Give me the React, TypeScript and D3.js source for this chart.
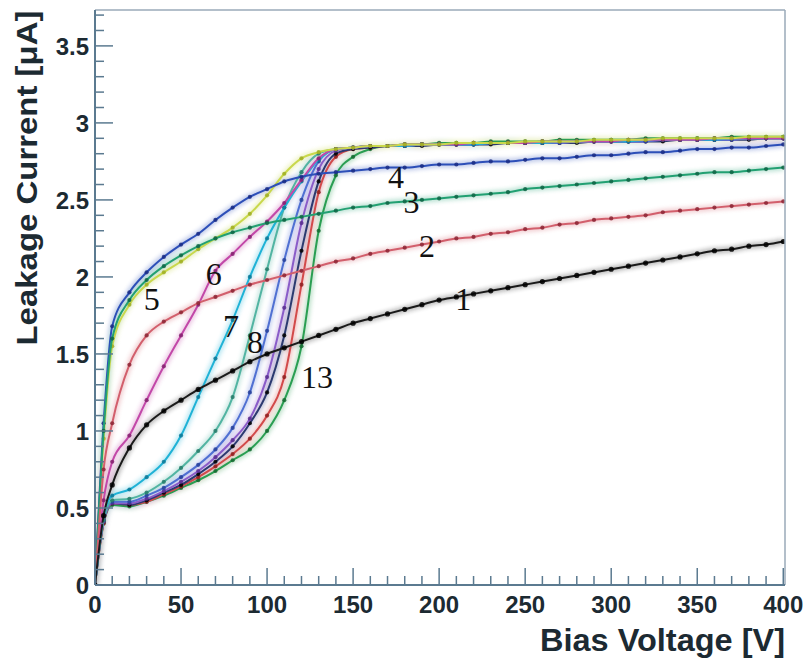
import React from "react";
import * as d3 from "d3";

// Bias voltage sample points [V]
const voltages = [0, 5, 10, 20, 30, 40, 50, 60, 70, 80, 90, 100, 110, 120, 130, 140, 150, 160, 170, 180, 190, 200, 210, 220, 230, 240, 250, 260, 270, 280, 290, 300, 310, 320, 330, 340, 350, 360, 370, 380, 390, 400];

// Leakage current [uA] per curve
const curve1 = [0, 0.45, 0.65, 0.89, 1.04, 1.13, 1.2, 1.27, 1.33, 1.39, 1.45, 1.5, 1.54, 1.58, 1.62, 1.66, 1.7, 1.73, 1.76, 1.79, 1.82, 1.85, 1.87, 1.89, 1.91, 1.93, 1.95, 1.97, 1.99, 2.01, 2.03, 2.05, 2.07, 2.09, 2.11, 2.13, 2.15, 2.17, 2.18, 2.2, 2.21, 2.23];
const curve2 = [0, 0.75, 1.05, 1.43, 1.62, 1.71, 1.77, 1.83, 1.87, 1.91, 1.95, 1.98, 2.01, 2.04, 2.07, 2.1, 2.12, 2.15, 2.17, 2.19, 2.21, 2.23, 2.25, 2.26, 2.28, 2.29, 2.31, 2.32, 2.34, 2.35, 2.37, 2.38, 2.39, 2.4, 2.42, 2.43, 2.44, 2.45, 2.46, 2.47, 2.48, 2.49];
const curve3 = [0, 1.0, 1.6, 1.85, 1.98, 2.07, 2.14, 2.2, 2.25, 2.29, 2.32, 2.35, 2.37, 2.39, 2.41, 2.43, 2.45, 2.46, 2.48, 2.49, 2.5, 2.51, 2.52, 2.53, 2.54, 2.55, 2.57, 2.58, 2.59, 2.6, 2.61, 2.62, 2.63, 2.64, 2.65, 2.66, 2.67, 2.68, 2.68, 2.69, 2.7, 2.71];
const curve4 = [0, 1.05, 1.68, 1.9, 2.03, 2.13, 2.21, 2.28, 2.37, 2.45, 2.52, 2.57, 2.62, 2.65, 2.67, 2.68, 2.69, 2.7, 2.71, 2.71, 2.72, 2.73, 2.73, 2.74, 2.75, 2.75, 2.76, 2.77, 2.77, 2.78, 2.79, 2.79, 2.8, 2.81, 2.81, 2.82, 2.83, 2.83, 2.84, 2.84, 2.85, 2.86];
const curve5 = [0, 0.95, 1.55, 1.82, 1.95, 2.03, 2.1, 2.18, 2.25, 2.32, 2.41, 2.53, 2.67, 2.77, 2.81, 2.83, 2.84, 2.85, 2.85, 2.86, 2.86, 2.86, 2.87, 2.87, 2.87, 2.87, 2.88, 2.88, 2.88, 2.88, 2.89, 2.89, 2.89, 2.89, 2.9, 2.9, 2.9, 2.9, 2.9, 2.91, 2.91, 2.91];
const curve6 = [0, 0.55, 0.8, 0.97, 1.2, 1.42, 1.62, 1.82, 2.04, 2.15, 2.26, 2.36, 2.48, 2.63, 2.77, 2.83, 2.84, 2.85, 2.85, 2.86, 2.86, 2.86, 2.86, 2.87, 2.87, 2.87, 2.87, 2.88, 2.88, 2.88, 2.88, 2.88, 2.89, 2.89, 2.89, 2.89, 2.89, 2.9, 2.9, 2.9, 2.9, 2.9];
const curve7 = [0, 0.45, 0.58, 0.62, 0.7, 0.8, 0.97, 1.22, 1.47, 1.72, 2.0, 2.25, 2.45, 2.62, 2.76, 2.83, 2.84, 2.85, 2.85, 2.85, 2.86, 2.86, 2.86, 2.86, 2.87, 2.87, 2.87, 2.87, 2.88, 2.88, 2.88, 2.88, 2.88, 2.89, 2.89, 2.89, 2.89, 2.89, 2.9, 2.9, 2.9, 2.9];
const curve8 = [0, 0.42, 0.55, 0.56, 0.6, 0.67, 0.76, 0.87, 1.0, 1.22, 1.62, 2.05, 2.45, 2.68, 2.8, 2.83, 2.84, 2.85, 2.85, 2.86, 2.86, 2.86, 2.86, 2.87, 2.87, 2.87, 2.87, 2.88, 2.88, 2.88, 2.88, 2.89, 2.89, 2.89, 2.89, 2.89, 2.9, 2.9, 2.9, 2.9, 2.9, 2.91];
const curve9 = [0, 0.42, 0.54, 0.54, 0.58, 0.63, 0.7, 0.78, 0.88, 1.02, 1.25, 1.65, 2.11, 2.5, 2.75, 2.83, 2.84, 2.85, 2.85, 2.85, 2.86, 2.86, 2.86, 2.86, 2.87, 2.87, 2.87, 2.87, 2.87, 2.88, 2.88, 2.88, 2.88, 2.88, 2.89, 2.89, 2.89, 2.89, 2.89, 2.9, 2.9, 2.9];
const curve10 = [0, 0.41, 0.53, 0.53, 0.56, 0.61, 0.67, 0.74, 0.83, 0.94, 1.08, 1.35, 1.8, 2.35, 2.7, 2.82, 2.84, 2.85, 2.85, 2.85, 2.86, 2.86, 2.86, 2.86, 2.87, 2.87, 2.87, 2.87, 2.87, 2.88, 2.88, 2.88, 2.88, 2.88, 2.89, 2.89, 2.89, 2.89, 2.89, 2.9, 2.9, 2.9];
const curve11 = [0, 0.41, 0.53, 0.52, 0.55, 0.6, 0.65, 0.72, 0.8, 0.9, 1.05, 1.25, 1.62, 2.17, 2.62, 2.8, 2.83, 2.84, 2.85, 2.85, 2.85, 2.86, 2.86, 2.86, 2.86, 2.87, 2.87, 2.87, 2.87, 2.87, 2.88, 2.88, 2.88, 2.88, 2.88, 2.89, 2.89, 2.89, 2.89, 2.89, 2.9, 2.9];
const curve12 = [0, 0.4, 0.53, 0.52, 0.54, 0.59, 0.64, 0.7, 0.77, 0.85, 0.95, 1.1, 1.35, 1.95, 2.55, 2.78, 2.83, 2.84, 2.85, 2.85, 2.86, 2.86, 2.86, 2.86, 2.87, 2.87, 2.87, 2.87, 2.88, 2.88, 2.88, 2.88, 2.88, 2.89, 2.89, 2.89, 2.89, 2.89, 2.9, 2.9, 2.9, 2.9];
const curve13 = [0, 0.4, 0.52, 0.51, 0.54, 0.58, 0.63, 0.68, 0.74, 0.81, 0.88, 1.0, 1.2, 1.55, 2.3, 2.66, 2.78, 2.83, 2.85, 2.86, 2.86, 2.87, 2.87, 2.87, 2.88, 2.88, 2.88, 2.88, 2.89, 2.89, 2.89, 2.89, 2.89, 2.9, 2.9, 2.9, 2.9, 2.9, 2.91, 2.91, 2.91, 2.91];

const seriesValues = [curve1, curve2, curve3, curve4, curve5, curve6, curve7, curve8, curve9, curve10, curve11, curve12, curve13];
const lineColors = ["#1a1a1a", "#d25f6c", "#22a072", "#2d4fb8", "#c9d84c", "#c248a8", "#1fb2d6", "#52b4a2", "#5070d2", "#8a5cc8", "#2c3a70", "#d24a4a", "#2a9e52"];
const dotColors = ["#000000", "#8c2434", "#0e6444", "#1a2c84", "#9fae22", "#84206e", "#0a7896", "#247a68", "#26409a", "#572c8e", "#000000", "#8e1e1e", "#146a30"];

// Curve number labels and their anchor (voltage, current)
const curveLabels = ["1", "2", "3", "4", "5", "6", "7", "8", "13"];
const labelVoltages = [214, 193, 184, 175, 33, 69, 79, 93, 129];
const labelCurrents = [1.86, 2.2, 2.49, 2.65, 1.86, 2.02, 1.68, 1.58, 1.35];

const xTickValues = [0, 50, 100, 150, 200, 250, 300, 350, 400];
const yTickValues = [0, 0.5, 1, 1.5, 2, 2.5, 3, 3.5];

const W = 810;
const H = 664;
const left = 95;
const right = 785;
const top = 10;
const bottom = 585;

export default function App() {
  const x = d3.scaleLinear().domain([0, 401]).range([left, right]);
  const y = d3.scaleLinear().domain([0, 3.733]).range([bottom, top]);

  const line = d3
    .line<number>()
    .x((_, i) => x(voltages[i]))
    .y((d) => y(d))
    .curve(d3.curveMonotoneX);

  const minorX = d3.range(0, 401, 10);
  const minorY = d3.range(0, 38).map((i) => i / 10);
  const axisColor = "#5b7a90";

  const order = d3.range(seriesValues.length).reverse();

  return (
    <div style={{ position: "absolute", left: 0, top: 0 }}>
      <svg width={W} height={H} style={{ display: "block", background: "#fff" }}>
        <defs>
          <clipPath id="plotClip">
            <rect x={left} y={top} width={right - left} height={bottom - top} />
          </clipPath>
          <filter id="blur" x="-10%" y="-10%" width="120%" height="120%">
            <feGaussianBlur stdDeviation="2" />
          </filter>
        </defs>
        <rect x={0} y={0} width={W} height={H} fill="#ffffff" />

        {/* curves */}
        <g clipPath="url(#plotClip)">
          <g filter="url(#blur)" opacity={0.3}>
            {order.map((k) => (
              <path key={"h" + k} d={line(seriesValues[k]) || ""} fill="none" stroke={lineColors[k]} strokeWidth={6} />
            ))}
          </g>
          {order.map((k) => (
            <g key={"c" + k}>
              <path d={line(seriesValues[k]) || ""} fill="none" stroke={lineColors[k]} strokeWidth={2} />
              {seriesValues[k].map((v, i) => (
                <circle key={i} cx={x(voltages[i])} cy={y(v)} r={k === 0 ? 2.6 : 2.1} fill={dotColors[k]} opacity={0.85} />
              ))}
            </g>
          ))}
        </g>

        {/* frame */}
        <line x1={left} x2={right} y1={top} y2={top} stroke="#9aaab8" strokeWidth={1.5} />
        <line x1={right} x2={right} y1={top} y2={bottom} stroke="#9aaab8" strokeWidth={1.5} />
        <line x1={left} x2={left} y1={top} y2={bottom} stroke={axisColor} strokeWidth={2} />
        <line x1={left} x2={right} y1={bottom} y2={bottom} stroke={axisColor} strokeWidth={2} />

        {/* x ticks */}
        {minorX.map((v) => (
          <line key={"xt" + v} x1={x(v)} x2={x(v)} y1={bottom} y2={bottom - (v % 50 === 0 ? 17 : 9)} stroke={axisColor} strokeWidth={1.5} />
        ))}
        {/* y ticks */}
        {minorY.map((v, i) => (
          <line key={"yt" + i} x1={left} x2={left + (i % 5 === 0 ? 18 : 9)} y1={y(v)} y2={y(v)} stroke={axisColor} strokeWidth={1.5} />
        ))}

        {/* tick labels */}
        {xTickValues.map((v) => (
          <text key={"xl" + v} x={x(v)} y={613} textAnchor="middle" fontFamily="Liberation Sans, Arial, sans-serif" fontWeight="bold" fontSize={24} fill="#1c2a32">
            {v}
          </text>
        ))}
        {yTickValues.map((v) => (
          <text key={"yl" + v} x={89} y={y(v)} dy="0.36em" textAnchor="end" fontFamily="Liberation Sans, Arial, sans-serif" fontWeight="bold" fontSize={24} fill="#1c2a32">
            {v}
          </text>
        ))}

        {/* axis titles */}
        <text x={785} y={651} textAnchor="end" fontFamily="Liberation Sans, Arial, sans-serif" fontWeight="bold" fontSize={31} fill="#1c2a32" textLength={245} lengthAdjust="spacingAndGlyphs">
          Bias Voltage [V]
        </text>
        <text transform="translate(37,178) rotate(-90)" textAnchor="middle" fontFamily="Liberation Sans, Arial, sans-serif" fontWeight="bold" fontSize={30} fill="#1c2a32" textLength={335} lengthAdjust="spacingAndGlyphs">
          Leakage Current [μA]
        </text>

        {/* curve labels */}
        {curveLabels.map((t, i) => (
          <text key={"cl" + t} x={x(labelVoltages[i])} y={y(labelCurrents[i])} dy="0.35em" textAnchor="middle" fontFamily="Liberation Serif, Times New Roman, serif" fontSize={32} fill="#111">
            {t}
          </text>
        ))}
      </svg>
    </div>
  );
}
